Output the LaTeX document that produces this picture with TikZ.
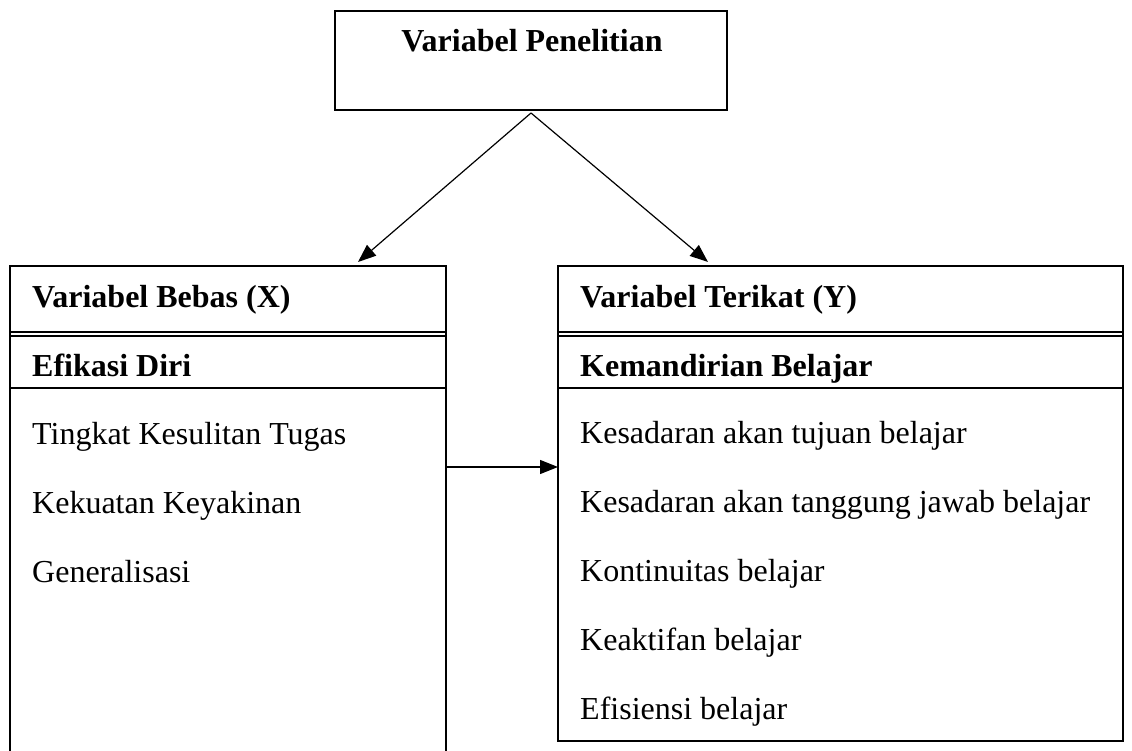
\documentclass[tikz,border=0pt]{standalone}
\usepackage{fontspec}
\setmainfont{Liberation Serif}
\usetikzlibrary{arrows.meta}
\tikzset{
  box/.style={draw=black, line width=1.3pt, inner sep=0pt, outer sep=0pt},
  ln/.style={line width=1.3pt},
  arr/.style={line width=1.2pt, -{Triangle[length=18pt,width=14pt]}},
  txt/.style={anchor=base west, inner sep=0pt, font=\fontsize{32}{36}\selectfont},
  btxt/.style={txt, font=\fontsize{32}{36}\selectfont\bfseries},
}
\begin{document}
\begin{tikzpicture}[x=1pt,y=-1pt]
\useasboundingbox (0,0) rectangle (1132,751);
% top box
\node[box, minimum width=392pt, minimum height=99pt] (top) at (531,60.5) {};
\node[btxt, anchor=base] (toptxt) at (532,52) {Variabel Penelitian};
\coordinate (apex) at (531,113);
\coordinate (tipL) at (358,262);
\coordinate (tipR) at (708,262);
\draw[arr] (apex) -- (tipL);
\draw[arr] (apex) -- (tipR);
% left column
\coordinate (L1) at (10,751);
\coordinate (L2) at (10,266);
\coordinate (L3) at (446,266);
\coordinate (L4) at (446,751);
\draw[ln] (L1) -- (L2) -- (L3) -- (L4);
\draw[ln] (10,332) -- (446,332);
\draw[ln] (10,336) -- (446,336);
\draw[ln] (10,388) -- (446,388);
\node[btxt] (hx) at (32,307) {Variabel Bebas (X)};
\node[btxt] (ex) at (32,376) {Efikasi Diri};
\node[txt] (x1) at (32,444) {Tingkat Kesulitan Tugas};
\node[txt] (x2) at (32,513) {Kekuatan Keyakinan};
\node[txt] (x3) at (32,582) {Generalisasi};
% right column
\node[box, anchor=north west, minimum width=565pt, minimum height=475pt] (right) at (558,266) {};
\draw[ln] (558,332) -- (1123,332);
\draw[ln] (558,336) -- (1123,336);
\draw[ln] (558,388) -- (1123,388);
\node[btxt] (hy) at (580,307) {Variabel Terikat (Y)};
\node[btxt] (ky) at (580,376) {Kemandirian Belajar};
\node[txt] (y1) at (580,443) {Kesadaran akan tujuan belajar};
\node[txt] (y2) at (580,512) {Kesadaran akan tanggung jawab belajar};
\node[txt] (y3) at (580,581) {Kontinuitas belajar};
\node[txt] (y4) at (580,650) {Keaktifan belajar};
\node[txt] (y5) at (580,719) {Efisiensi belajar};
% horizontal arrow
\coordinate (hs) at (446,467);
\draw[arr] (hs) -- (right.west |- hs);
\end{tikzpicture}
\end{document}
